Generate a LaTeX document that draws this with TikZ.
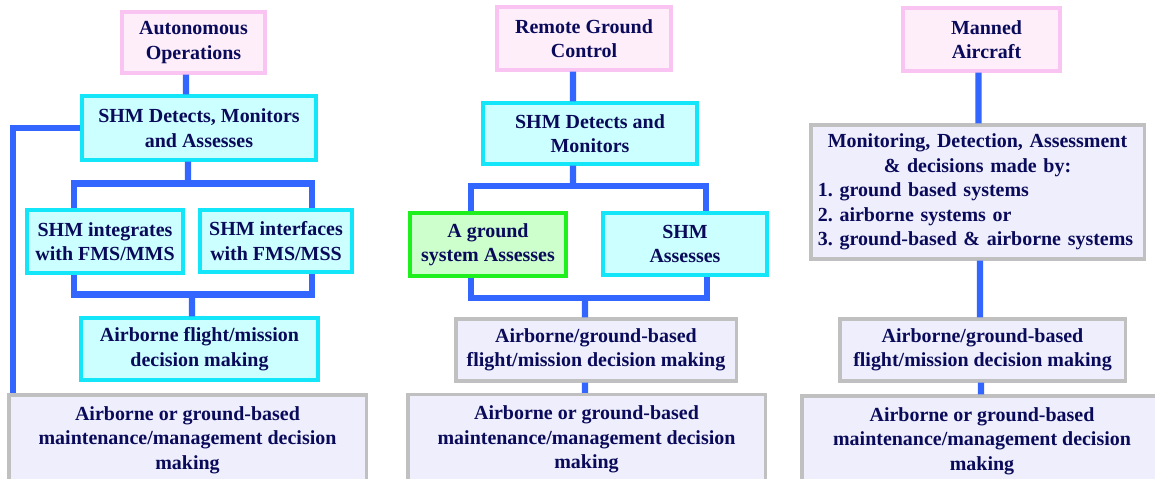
\documentclass[tikz,border=0pt]{standalone}
\usepackage{fontspec}
\setmainfont{Liberation Serif}

\definecolor{linkblue}{RGB}{51,102,255}
\definecolor{navytext}{RGB}{10,10,90}
\definecolor{pinkfill}{RGB}{253,238,250}
\definecolor{pinkline}{RGB}{249,196,242}
\definecolor{cyanfill}{RGB}{204,255,255}
\definecolor{cyanline}{RGB}{20,230,250}
\definecolor{greenfill}{RGB}{204,255,204}
\definecolor{greenline}{RGB}{30,240,30}
\definecolor{greyfill}{RGB}{238,238,252}
\definecolor{greyline}{RGB}{192,192,192}

\begin{document}
\begin{tikzpicture}[x=0.025cm,y=-0.025cm,
  box/.style={draw,line width=2.2pt,align=center,inner sep=0pt,text=navytext,font=\bfseries\frenchspacing\fontsize{14.2}{17.4}\selectfont},
  topbox/.style={box,fill=pinkfill,draw=pinkline},
  shmbox/.style={box,fill=cyanfill,draw=cyanline},
  gndbox/.style={box,fill=greenfill,draw=greenline},
  greybox/.style={box,fill=greyfill,draw=greyline},
  link/.style={line width=4.3pt,draw=linkblue}]

    \useasboundingbox (0,0) rectangle (1155,479);

    % autonomous operations
    \node[topbox,minimum width=3.575cm,minimum height=1.525cm] (auto) at (193.5,42.5) {Autonomous\\Operations};
    \node[shmbox,minimum width=5.85cm,minimum height=1.6cm] (det1) at (199,128) {SHM Detects, Monitors\\and Assesses};
    \node[shmbox,minimum width=3.9cm,minimum height=1.575cm] (integ) at (105,241.5) {SHM integrates\\with FMS/MMS};
    \node[shmbox,minimum width=3.8cm,minimum height=1.55cm] (inter) at (276,241) {SHM interfaces\\with FMS/MSS};
    \node[shmbox,minimum width=5.925cm,minimum height=1.55cm] (fdm1) at (199.5,349) {Airborne flight/mission\\decision making};
    \node[greybox,minimum width=8.925cm,minimum height=2.25cm] (mdm1) at (187.5,440) {Airborne or ground-based\\maintenance/management decision\\making};

    % remote ground control
    \node[topbox,minimum width=4.35cm,minimum height=1.575cm] (rgc) at (584,38.5) {Remote Ground\\Control};
    \node[shmbox,minimum width=5.35cm,minimum height=1.525cm] (det2) at (590,133.5) {SHM Detects and\\Monitors};
    \node[gndbox,minimum width=3.9cm,minimum height=1.575cm] (gsa) at (488,244.5) {A ground\\system Assesses};
    \node[shmbox,minimum width=4.1cm,minimum height=1.55cm] (shma) at (685,244) {SHM\\Assesses};
    \node[greybox,minimum width=7cm,minimum height=1.55cm] (fdm2) at (596,350) {Airborne/ground-based\\flight/mission decision making};
    \node[greybox,minimum width=8.925cm,minimum height=2.25cm] (mdm2) at (586.5,439.5) {Airborne or ground-based\\maintenance/management decision\\making};

    % manned aircraft
    \node[topbox,minimum width=3.925cm,minimum height=1.575cm] (man) at (981.5,39.5) {\hspace*{0.25cm}Manned\\\hspace*{0.25cm}Aircraft};
    \node[greybox,align=left,text width=7.975cm,minimum width=8.325cm,minimum height=3.35cm] (mon) at (977.5,192)
        {{\centering Monitoring, Detection, Assessment\\ \& decisions made by:\par}1. ground based systems\\2. airborne systems or\\3. ground-based \& airborne systems};
    \node[greybox,minimum width=7.125cm,minimum height=1.55cm] (fdm3) at (982.5,350) {Airborne/ground-based\\flight/mission decision making};
    \node[greybox,minimum width=9cm,minimum height=2.25cm] (mdm3) at (982,441) {Airborne or ground-based\\maintenance/management decision\\making};

    \coordinate (bus1) at (188,183.5);
    \coordinate (bus2) at (192,294.5);
    \coordinate (bus3) at (573,186);
    \coordinate (bus4) at (585,298);

    \draw[link] ([xshift=-0.1875cm]auto.south) -- ([xshift=-0.325cm]det1.north);
    \draw[link] (det1.west) -| ([xshift=0.15cm]mdm1.north west);
    \draw[link] ([xshift=-0.275cm]det1.south) -- (bus1);
    \draw[link] ([xshift=-0.775cm]integ.north) |- (bus1) -| ([xshift=0.9cm]inter.north);
    \draw[link] ([xshift=-0.775cm]integ.south) |- (bus2) -| ([xshift=0.9cm]inter.south);
    \draw[link] (bus2) -- ([xshift=-0.1875cm]fdm1.north);

    \draw[link] ([xshift=-0.275cm]rgc.south) -- ([xshift=-0.425cm]det2.north);
    \draw[link] ([xshift=-0.425cm]det2.south) -- (bus3);
    \draw[link] ([xshift=-0.425cm]gsa.north) |- (bus3) -| ([xshift=0.525cm]shma.north);
    \draw[link] ([xshift=-0.425cm]gsa.south) |- (bus4) -| ([xshift=0.55cm]shma.south);
    \draw[link] (bus4) -- ([xshift=-0.275cm]fdm2.north);
    \draw[link] ([xshift=-0.275cm]fdm2.south) -- ([xshift=-0.0375cm]mdm2.north);

    \draw[link] ([xshift=-0.075cm]man.south) -- ([xshift=0.025cm]mon.north);
    \draw[link] ([xshift=0.0625cm]mon.south) -- ([xshift=-0.0625cm]fdm3.north);
    \draw[link] ([xshift=-0.0375cm]fdm3.south) -- ([xshift=-0.025cm]mdm3.north);
\end{tikzpicture}
\end{document}
